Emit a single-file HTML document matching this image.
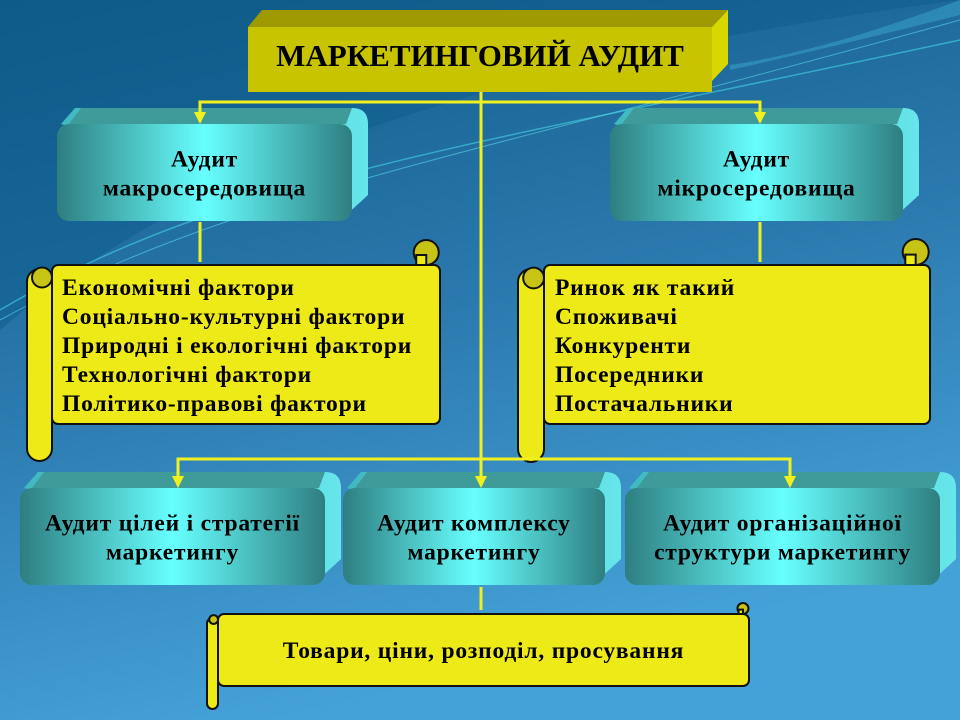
<!DOCTYPE html>
<html><head><meta charset="utf-8"><style>
html,body{margin:0;padding:0;width:960px;height:720px;overflow:hidden}
svg{display:block}
text{font-family:"Liberation Serif",serif;font-weight:bold;fill:#000}
</style></head><body>
<svg id="s" width="960" height="720" viewBox="0 0 960 720" xmlns="http://www.w3.org/2000/svg">
<defs>
<linearGradient id="bg" x1="0" y1="0" x2="0.3" y2="1">
<stop offset="0" stop-color="#115a86"/><stop offset="0.5" stop-color="#2a78ad"/><stop offset="1" stop-color="#45a2d8"/></linearGradient>
<linearGradient id="fr" x1="0" y1="0" x2="1" y2="0">
<stop offset="0" stop-color="#2e7e80"/><stop offset="0.5" stop-color="#68ffff"/><stop offset="1" stop-color="#2e7e80"/></linearGradient>
<linearGradient id="sd" x1="0" y1="0" x2="1" y2="0">
<stop offset="0" stop-color="#40b8c0"/><stop offset="1" stop-color="#66e6ea"/></linearGradient>
</defs>
<rect width="960" height="720" fill="url(#bg)"/>
<path d="M0 330 C200 160 500 60 960 0 L960 -10 L0 -10Z" fill="#0c5c8c" opacity="0.5"/>
<path d="M0 310 C220 180 450 150 960 40" stroke="#3ec8d8" stroke-width="1.5" fill="none" opacity="0.7"/>
<path d="M0 320 C240 190 460 160 960 20" stroke="#5ad8e8" stroke-width="1" fill="none" opacity="0.6"/>
<path d="M730 70 C820 50 900 30 960 15 L960 0 C880 30 800 55 730 65Z" fill="#3aa8cc" opacity="0.5"/>
<g id="g"></g>
<polygon points="248,27 262,10 728,10 712,27" fill="#9e9a00"/>
<polygon points="712,27 728,10 728,64 712,81" fill="#d8d800"/>
<rect x="248" y="27" width="464" height="65" fill="#c8c400"/>
<text x="480" y="66" font-size="31" text-anchor="middle">МАРКЕТИНГОВИЙ АУДИТ</text>
<g stroke="#f0f020" stroke-width="3" fill="none">
<path d="M481 92 V478"/>
<path d="M200 122 V102 H760 V122"/>
<path d="M200 222 V262 M760 222 V262"/>
<path d="M178 479 V459 H790 V479"/>
<path d="M481 587 V610"/>
</g>
<g fill="#f0f020">
<polygon points="194,112 206,112 200,124"/><polygon points="754,112 766,112 760,124"/>
<polygon points="172,476 184,476 178,488"/><polygon points="475,476 487,476 481,488"/><polygon points="784,476 796,476 790,488"/>
</g>
</svg>
<script>
var g=document.getElementById('g'),h='';
var TS='font-size="23.5" letter-spacing="0.8"';
function box(x,y,w,hh,d,lines){
 h+='<path d="M'+(x+4)+' '+(y)+' L'+(x+18)+' '+(y-d)+' H'+(x+w)+' Q'+(x+w+d)+' '+(y-d)+' '+(x+w+d)+' '+(y)+' V'+(y+hh-d-10)+' L'+(x+w-8)+' '+(y+hh-4)+' Z" fill="url(#sd)"/>';
 h+='<path d="M'+(x+12)+' '+(y)+' L'+(x+24)+' '+(y-d)+' H'+(x+w)+' L'+(x+w-6)+' '+y+'Z" fill="#3f9a9a"/>';
 h+='<rect x="'+x+'" y="'+y+'" width="'+w+'" height="'+hh+'" rx="12" fill="url(#fr)"/>';
 var n=lines.length,cy=y+hh/2-(n-1)*14;
 lines.forEach(function(t,i){h+='<text x="'+(x+w/2)+'" y="'+(cy+i*29+8)+'" '+TS+' text-anchor="middle">'+t+'</text>';});
}
function scroll(x,y,w,hh,r,lines,lx,center){
 var st='stroke="#111" stroke-width="2"';
 h+='<rect x="'+(x+r)+'" y="'+y+'" width="'+(w-r)+'" height="'+hh+'" rx="6" fill="#eeea18" '+st+'/>';
 h+='<circle cx="'+(x+w-r*0.55)+'" cy="'+(y-r*0.5)+'" r="'+r*0.5+'" fill="#c8c416" '+st+'/>';
 h+='<rect x="'+(x+w-r*0.95)+'" y="'+(y-r*0.4)+'" width="'+r*0.4+'" height="'+(r*0.4)+'" fill="#eeea18" '+st+'/>';
 h+='<rect x="'+x+'" y="'+(y+4)+'" width="'+r+'" height="'+(hh+r+8)+'" rx="'+(r/2)+'" fill="#eeea18" '+st+'/>';
 h+='<circle cx="'+(x+r*0.6)+'" cy="'+(y+r*0.5)+'" r="'+r*0.4+'" fill="#c8c416" '+st+'/>';
 if(center){h+='<text x="'+(x+r+(w-r)/2)+'" y="'+(y+hh/2+8)+'" '+TS+' text-anchor="middle">'+lines[0]+'</text>';}
 else lines.forEach(function(t,i){h+='<text x="'+lx+'" y="'+(y+30+i*29)+'" '+TS+'>'+t+'</text>';});
}
box(57,124,295,97,16,['Аудит','макросередовища']);
box(610,124,293,97,16,['Аудит','мікросередовища']);
box(20,488,305,97,16,['Аудит цілей і стратегії','маркетингу']);
box(343,488,262,97,16,['Аудит комплексу','маркетингу']);
box(625,488,315,97,16,['Аудит організаційної','структури маркетингу']);
scroll(27,265,413,159,25,['Економічні фактори','Соціально-культурні фактори','Природні і екологічні фактори','Технологічні фактори','Політико-правові фактори'],62);
scroll(518,265,412,159,26,['Ринок як такий','Споживачі','Конкуренти','Посередники','Постачальники'],555);
scroll(207,614,542,72,11,['Товари, ціни, розподіл, просування'],0,true);
g.innerHTML=h;
</script>
</body></html>
